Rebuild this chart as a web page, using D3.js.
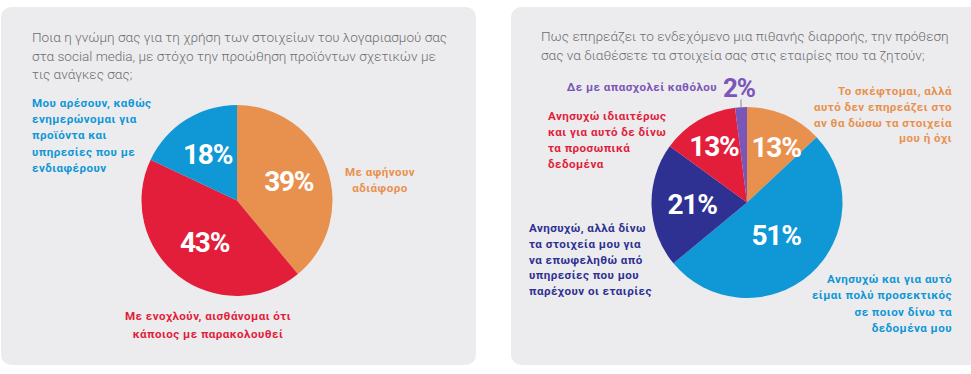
<!DOCTYPE html>
<html><head><meta charset="utf-8">
<script src="https://cdn.jsdelivr.net/npm/d3@7"></script>
<style>
html,body{margin:0;padding:0;background:#fff;}
svg{display:block;}
</style></head>
<body>
<svg id="chart" width="971" height="374"></svg>
<script>
// ---- data ----
const leftTitle = ["Ποια η γνώμη σας για τη χρήση των στοιχείων του λογαριασμού σας",
  "στα social media, με στόχο την προώθηση προϊόντων σχετικών με",
  "τις ανάγκες σας;"];
const leftCategories = [
  ["Με αφήνουν", "αδιάφορο"],
  ["Με ενοχλούν, αισθάνομαι ότι", "κάποιος με παρακολουθεί"],
  ["Μου αρέσουν, καθώς", "ενημερώνομαι για", "προϊόντα και", "υπηρεσίες που με", "ενδιαφέρουν"]
];
const leftValues = [39, 43, 18];
const leftColors = ["#e8914f", "#e21e3b", "#0f97d6"];

const rightTitle = ["Πως επηρεάζει το ενδεχόμενο μια πιθανής διαρροής, την πρόθεση",
  "σας να διαθέσετε τα στοιχεία σας στις εταιρίες που τα ζητούν;"];
const rightCategories = [
  ["Το σκέφτομαι, αλλά", "αυτό δεν επηρεάζει στο", "αν θα δώσω τα στοιχεία", "μου ή όχι"],
  ["Ανησυχώ και για αυτό", "είμαι πολύ προσεκτικός", "σε ποιον δίνω τα", "δεδομένα μου"],
  ["Ανησυχώ, αλλά δίνω", "τα στοιχεία μου για", "να επωφεληθώ από", "υπηρεσίες που μου", "παρέχουν οι εταιρίες"],
  ["Ανησυχώ ιδιαιτέρως", "και για αυτό δε δίνω", "τα προσωπικά", "δεδομένα"],
  ["Δε με απασχολεί καθόλου"]
];
const rightValues = [13, 51, 21, 13, 2];
const rightColors = ["#e8914f", "#0f97d6", "#2e3192", "#e21e3b", "#7b55b8"];

// ---- layout ----
const svg = d3.select("#chart");
const panelFill = "#ececee";
const titleColor = "#6d6e71";
const titleFont = "Roboto, 'Open Sans', sans-serif";
const labelFont = "Roboto, 'DejaVu Sans', sans-serif";
const pctFont = "Roboto, 'DejaVu Sans Condensed', sans-serif";

svg.append("rect").attr("x",1).attr("y",7).attr("width",475).attr("height",358).attr("rx",10).attr("fill",panelFill);
svg.append("rect").attr("x",511).attr("y",7).attr("width",475).attr("height",358).attr("rx",10).attr("fill",panelFill);

function title(lines, x, y0, dy){
  const t = svg.append("text").attr("fill", titleColor).attr("font-family", titleFont)
    .attr("font-size", 13.6).attr("font-weight", 300);
  lines.forEach((l,i)=>t.append("tspan").attr("x",x).attr("y",y0+i*dy).attr("dominant-baseline","central").text(l));
}
title(leftTitle, 32, 37, 18.6);
title(rightTitle, 541, 36, 19);

function label(lines, x, y0, dy, anchor, color){
  const t = svg.append("text").attr("fill", color).attr("font-family", labelFont)
    .attr("font-size", 11.6).attr("font-weight", 700).attr("letter-spacing", 0.45)
    .attr("text-anchor", anchor);
  lines.forEach((l,i)=>t.append("tspan").attr("x",x).attr("y",y0+i*dy).attr("dominant-baseline","central").text(l));
}

function drawPie(values, colors, cx, cy, r){
  const pie = d3.pie().sort(null).value(d=>d);
  const arcs = pie(values);
  const arc = d3.arc().innerRadius(0).outerRadius(r);
  const g = svg.append("g").attr("transform", `translate(${cx},${cy})`);
  g.selectAll("path").data(arcs).enter().append("path")
    .attr("d", arc).attr("fill", (d,i)=>colors[i]);
  return {g, arcs};
}

// left pie
const L = drawPie(leftValues, leftColors, 237, 200.5, 95.5);
const lpR = [55, 53, 55];
L.g.selectAll("text.pct").data(L.arcs).enter().append("text")
  .attr("class","pct")
  .attr("x", (d,i)=> lpR[i]*Math.sin((d.startAngle+d.endAngle)/2))
  .attr("y", (d,i)=> -lpR[i]*Math.cos((d.startAngle+d.endAngle)/2))
  .attr("text-anchor","middle").attr("dominant-baseline","central")
  .attr("fill","#fff").attr("font-family",pctFont).attr("font-weight",700)
  .attr("font-size",28).attr("letter-spacing",-1.2)
  .text(d=>d.data+"%");

label(leftCategories[0], 380, 172, 15.5, "middle", leftColors[0]);
label(leftCategories[1], 208, 316, 18, "middle", leftColors[1]);
label(leftCategories[2], 32, 103, 16.2, "start", leftColors[2]);

// right pie
const R = drawPie(rightValues, rightColors, 747, 202.5, 95.5);
const rpR = [62, 44, 55, 65, null];
const rpDA = [0.08, 0, 0, 0, 0];
R.g.selectAll("text.pct").data(R.arcs.filter((d,i)=>rpR[i]!==null)).enter().append("text")
  .attr("class","pct")
  .attr("x", (d,i)=> rpR[i]*Math.sin((d.startAngle+d.endAngle)/2 + rpDA[i]))
  .attr("y", (d,i)=> -rpR[i]*Math.cos((d.startAngle+d.endAngle)/2 + rpDA[i]))
  .attr("text-anchor","middle").attr("dominant-baseline","central")
  .attr("fill","#fff").attr("font-family",pctFont).attr("font-weight",700)
  .attr("font-size",28).attr("letter-spacing",-1.2)
  .text(d=>d.data+"%");

// small slice: leader line + outside label
const small = R.arcs[4];
const ma = (small.startAngle + small.endAngle)/2;
const lx = 95.5*Math.sin(ma);
R.g.append("line").attr("x1", lx).attr("y1", -95.5*Math.cos(ma))
  .attr("x2", lx).attr("y2", -103).attr("stroke","#8a8a8a").attr("stroke-width",1);
R.g.append("text").attr("x", lx-2).attr("y", -115)
  .attr("text-anchor","middle").attr("dominant-baseline","central")
  .attr("fill", rightColors[4]).attr("font-family",pctFont).attr("font-weight",700)
  .attr("font-size",26).attr("letter-spacing",-1)
  .text(small.data+"%");

label(rightCategories[0], 952, 91, 15.8, "end", rightColors[0]);
label(rightCategories[1], 952, 279, 16.3, "end", rightColors[1]);
label(rightCategories[2], 529, 228, 15.8, "start", rightColors[2]);
label(rightCategories[3], 548, 116, 16, "start", rightColors[3]);
label(rightCategories[4], 717, 87, 16, "end", rightColors[4]);
</script>
</body></html>
